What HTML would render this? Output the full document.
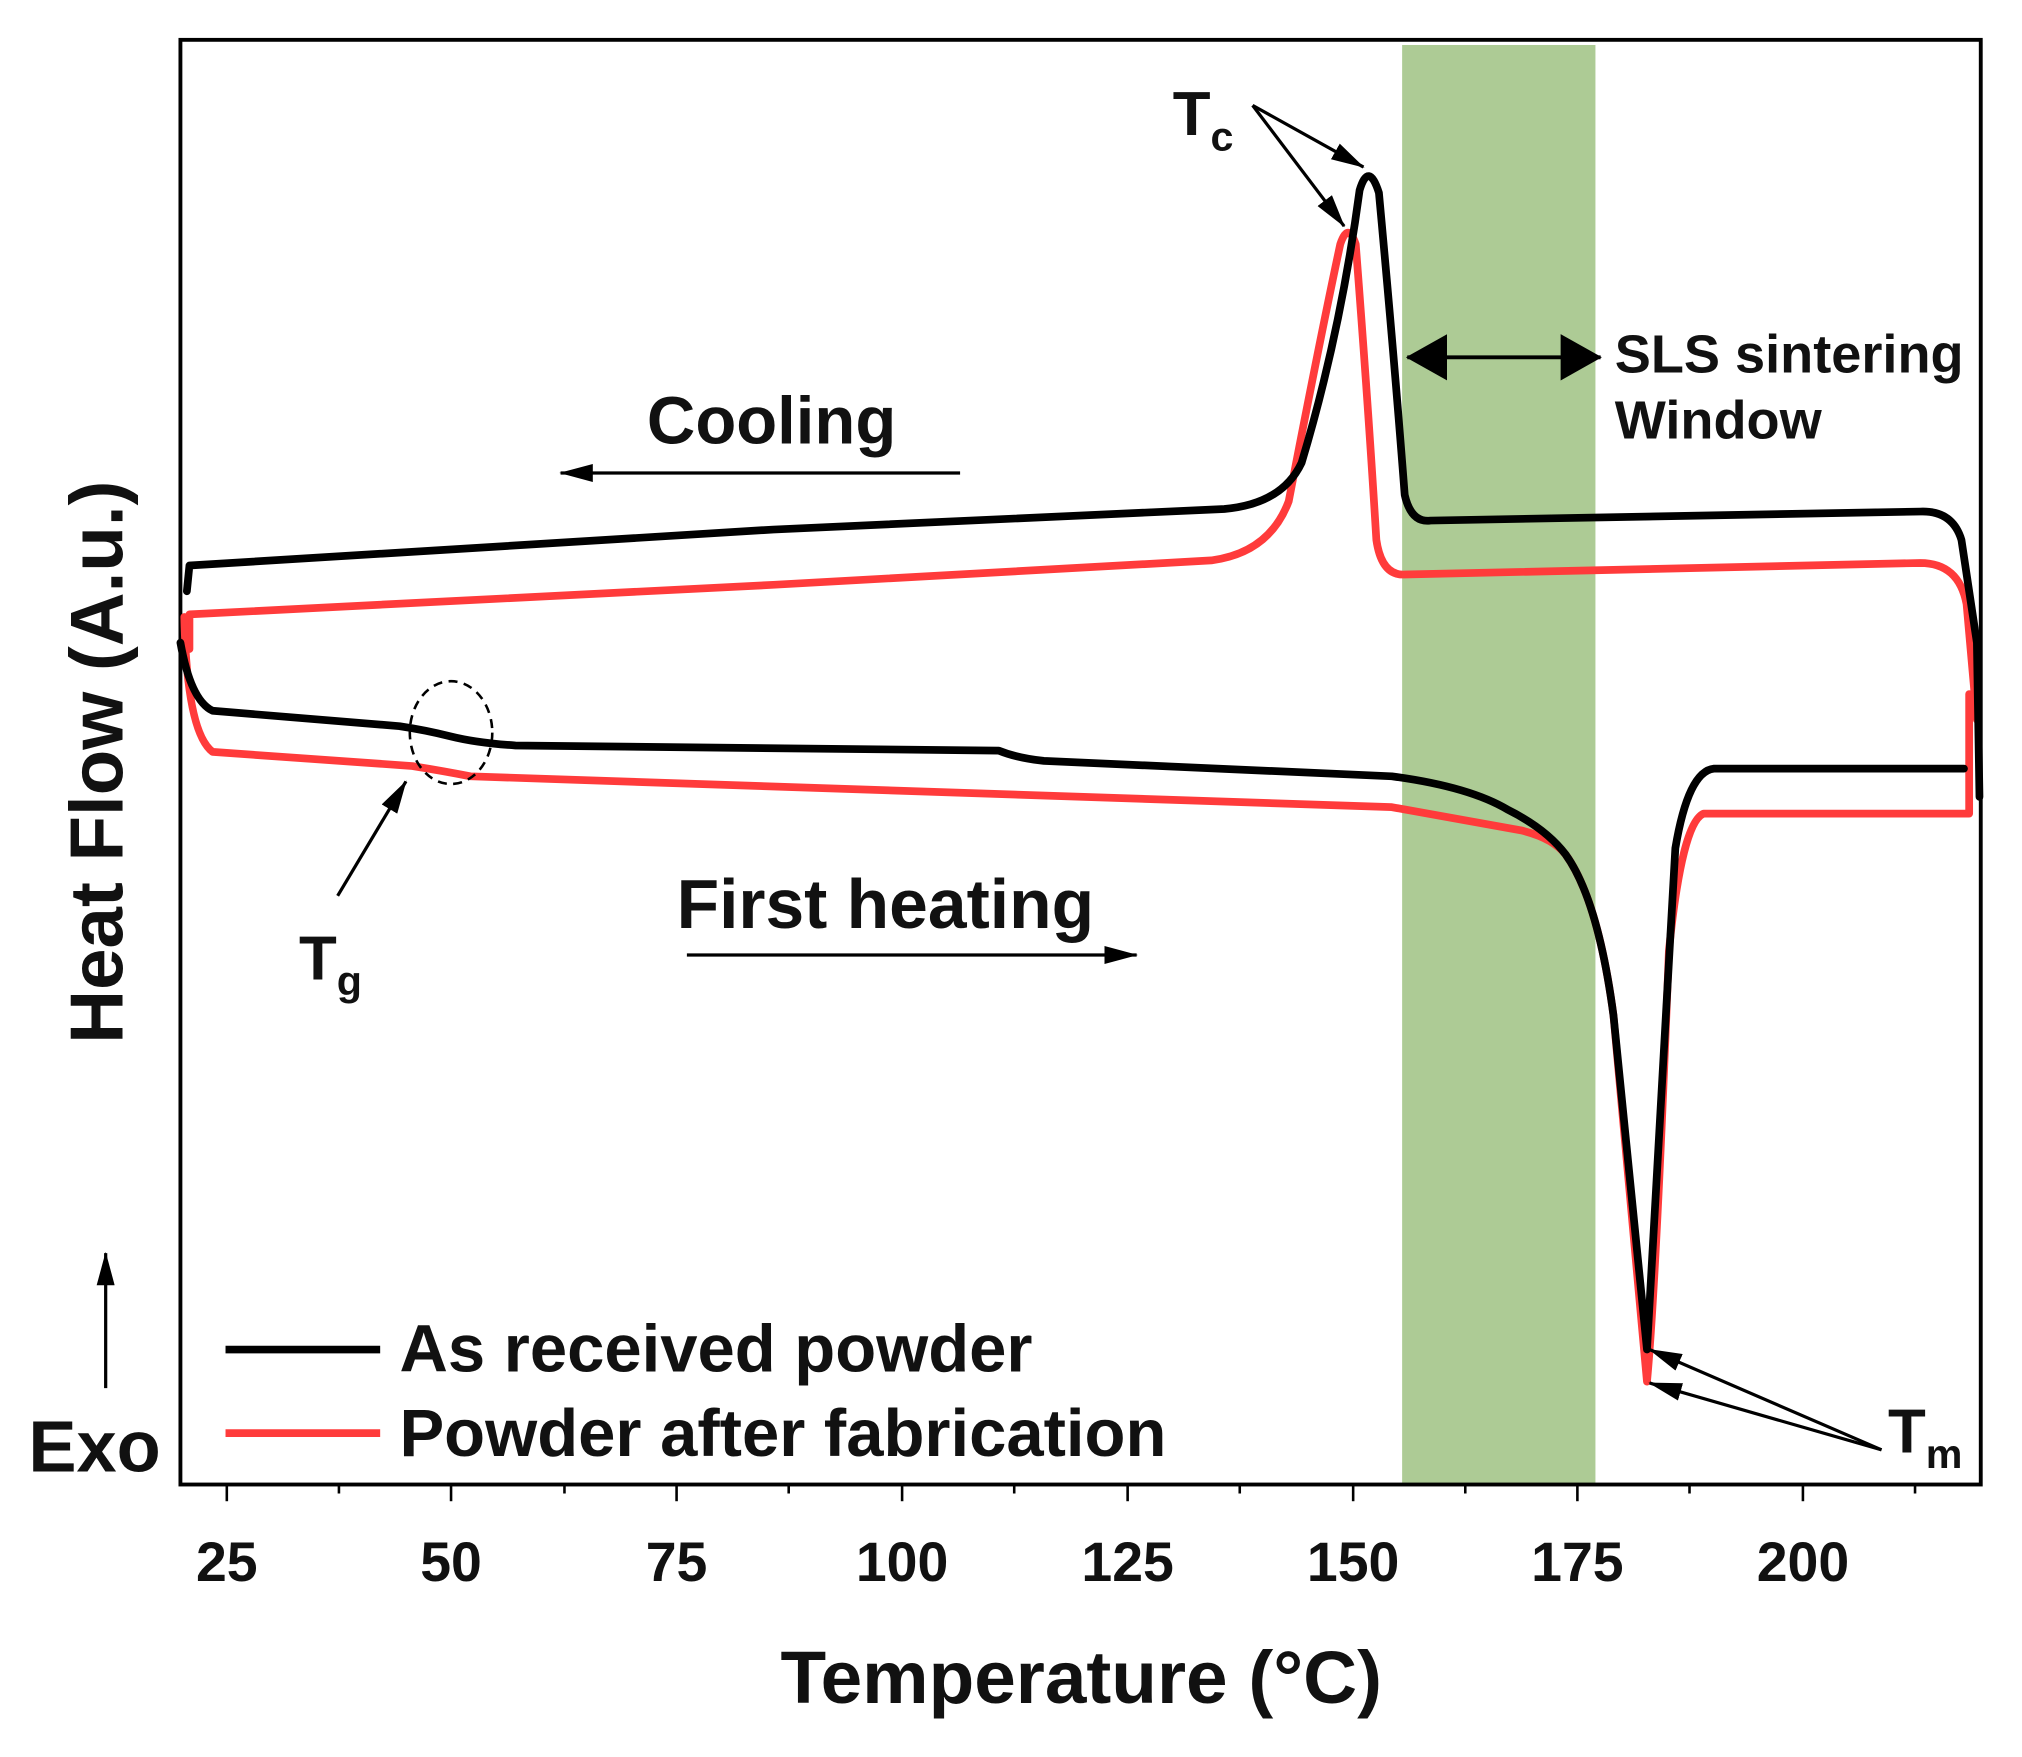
<!DOCTYPE html>
<html><head><meta charset="utf-8"><style>
html,body{margin:0;padding:0;background:#fff;}
svg{display:block;}
text{font-family:"Liberation Sans",Arial,sans-serif;font-weight:bold;fill:#111;}
</style></head><body>
<svg width="2022" height="1757" viewBox="0 0 1569 1367" preserveAspectRatio="none" xmlns="http://www.w3.org/2000/svg">
<defs>
<marker id="ahs" markerWidth="26" markerHeight="14" refX="25" refY="7" orient="auto" markerUnits="userSpaceOnUse" viewBox="0 0 26 14">
<path d="M0,0 L26,7 L0,14 Z" fill="#000"/></marker>
<marker id="big" markerWidth="32" markerHeight="36" refX="31" refY="18" orient="auto-start-reverse" markerUnits="userSpaceOnUse" viewBox="0 0 32 36">
<path d="M0,0 L32,18 L0,36 Z" fill="#000"/></marker>
</defs>
<rect x="1088" y="35" width="150" height="1120" fill="#adcb95"/>
<rect x="140" y="31" width="1397" height="1124" fill="none" stroke="#000" stroke-width="3"/>
<g stroke="#000" stroke-width="2">
<line x1="176" y1="1155" x2="176" y2="1168"/><line x1="263" y1="1155" x2="263" y2="1162"/>
<line x1="350" y1="1155" x2="350" y2="1168"/><line x1="438" y1="1155" x2="438" y2="1162"/>
<line x1="525" y1="1155" x2="525" y2="1168"/><line x1="612" y1="1155" x2="612" y2="1162"/>
<line x1="700" y1="1155" x2="700" y2="1168"/><line x1="787" y1="1155" x2="787" y2="1162"/>
<line x1="875" y1="1155" x2="875" y2="1168"/><line x1="962" y1="1155" x2="962" y2="1162"/>
<line x1="1050" y1="1155" x2="1050" y2="1168"/><line x1="1137" y1="1155" x2="1137" y2="1162"/>
<line x1="1224" y1="1155" x2="1224" y2="1168"/><line x1="1311" y1="1155" x2="1311" y2="1162"/>
<line x1="1399" y1="1155" x2="1399" y2="1168"/><line x1="1486" y1="1155" x2="1486" y2="1162"/>
</g>
<g font-size="43" text-anchor="middle">
<text x="176" y="1230">25</text><text x="350" y="1230">50</text><text x="525" y="1230">75</text>
<text x="700" y="1230">100</text><text x="875" y="1230">125</text><text x="1050" y="1230">150</text>
<text x="1224" y="1230">175</text><text x="1399" y="1230">200</text>
</g>
<text x="839" y="1325" font-size="58" text-anchor="middle">Temperature (°C)</text>
<text transform="translate(95,593) rotate(-90)" font-size="58" text-anchor="middle">Heat Flow (A.u.)</text>
<text x="22" y="1145" font-size="56">Exo</text>
<line x1="82" y1="1080" x2="82" y2="975" stroke="#000" stroke-width="2.5" marker-end="url(#ahs)"/>
<g fill="none" stroke-width="6" stroke-linejoin="round" stroke-linecap="round">
<path stroke="#ff3b3b" d="M147,505 L147,478 L600,455 L940,436 Q985,430 1000,390 Q1025,260 1040,190 Q1046,172 1052,190 Q1062,320 1068,420 Q1072,448 1090,447 L1490,438 Q1520,438 1526,470 L1534,560"/>
<path stroke="#000" d="M145,460 L147,440 L600,412 L950,396 Q995,392 1010,360 Q1040,260 1055,148 Q1062,125 1070,150 Q1082,280 1090,385 Q1095,407 1110,405 L1490,398 Q1515,397 1522,420 L1534,500 L1536,620"/>
<path stroke="#ff3b3b" d="M143,480 Q145,570 165,585 L320,596 Q345,600 365,604 L1080,628 L1180,646 Q1205,652 1215,665 Q1240,700 1252,790 L1278,1075 Q1285,1000 1295,740 Q1305,640 1322,633 L1528,633 L1528,540"/>
<path stroke="#000" d="M140,500 Q148,545 165,553 L310,565 Q330,568 350,573 Q370,578 400,580 L775,584 Q790,590 810,592 L1080,604 Q1140,612 1170,630 Q1200,645 1215,665 Q1240,700 1252,790 L1278,1050 Q1287,900 1300,660 Q1310,600 1330,598 L1524,598"/>
</g>
<line x1="175" y1="1050" x2="295" y2="1050" stroke="#000" stroke-width="6"/>
<text x="310" y="1067" font-size="52">As received powder</text>
<line x1="175" y1="1115" x2="295" y2="1115" stroke="#ff3b3b" stroke-width="6"/>
<text x="310" y="1133" font-size="52">Powder after fabrication</text>
<text x="502" y="345" font-size="52">Cooling</text>
<line x1="745" y1="368" x2="435" y2="368" stroke="#000" stroke-width="2.5" marker-end="url(#ahs)"/>
<text x="525" y="722" font-size="54">First heating</text>
<line x1="533" y1="743" x2="882" y2="743" stroke="#000" stroke-width="2.5" marker-end="url(#ahs)"/>
<text x="910" y="105" font-size="48">T<tspan font-size="32" dy="12">c</tspan></text>
<line x1="972" y1="82" x2="1058" y2="130" stroke="#000" stroke-width="2.5" marker-end="url(#ahs)"/>
<line x1="972" y1="82" x2="1043" y2="176" stroke="#000" stroke-width="2.5" marker-end="url(#ahs)"/>
<line x1="1092" y1="278" x2="1242" y2="278" stroke="#000" stroke-width="3" marker-start="url(#big)" marker-end="url(#big)"/>
<text x="1253" y="290" font-size="42">SLS sintering</text>
<text x="1253" y="341" font-size="42">Window</text>
<ellipse cx="350" cy="570" rx="32" ry="40" fill="none" stroke="#000" stroke-width="2" stroke-dasharray="7,5"/>
<line x1="262" y1="697" x2="315" y2="608" stroke="#000" stroke-width="2.5" marker-end="url(#ahs)"/>
<text x="232" y="762" font-size="48">T<tspan font-size="32" dy="12">g</tspan></text>
<line x1="1460" y1="1128" x2="1280" y2="1050" stroke="#000" stroke-width="2.5" marker-end="url(#ahs)"/>
<line x1="1460" y1="1128" x2="1280" y2="1076" stroke="#000" stroke-width="2.5" marker-end="url(#ahs)"/>
<text x="1465" y="1130" font-size="48">T<tspan font-size="32" dy="12">m</tspan></text>
</svg>
</body></html>
